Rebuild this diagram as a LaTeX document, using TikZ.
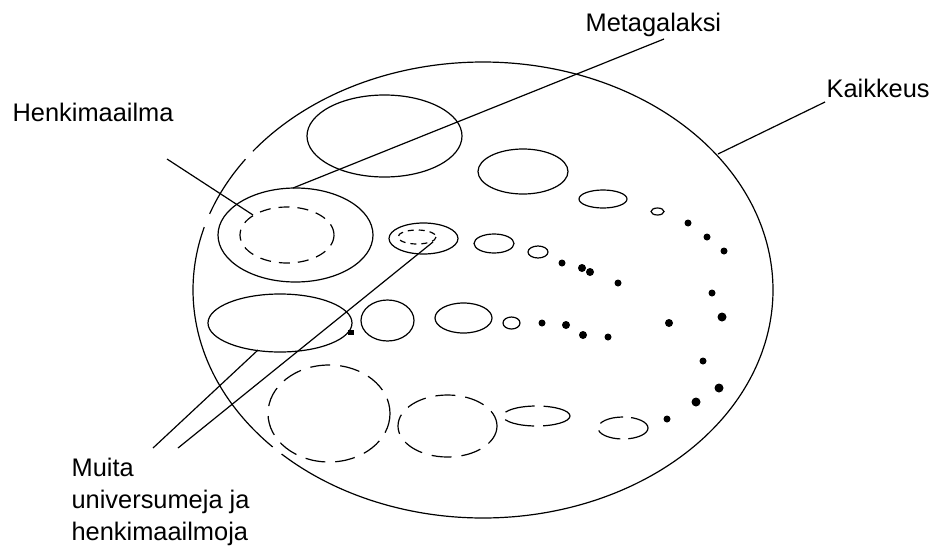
\documentclass[tikz,border=0pt]{standalone}
\usepackage{fontspec}
\setmainfont{Liberation Sans}
\begin{document}
\begin{tikzpicture}[x=1pt,y=-1pt,line width=1.2pt,
  lbl/.style={anchor=base west,inner sep=0pt,font=\fontsize{25.4}{32}\selectfont},
  dot/.style={fill=black,draw=none},
  dshA/.style={dash pattern=on 11pt off 8pt},
  dshB/.style={dash pattern=on 20pt off 10pt},
  dshC/.style={dash pattern=on 6pt off 5pt}]
\useasboundingbox (0,0) rectangle (933,549);

% Kaikkeus (big ellipse, with small gaps)
\draw plot[domain=136.5:196,samples=60,smooth] ({483+290*cos(\x)},{290+228*sin(\x)});
\draw plot[domain=199.5:215,samples=20,smooth] ({483+290*cos(\x)},{290+228*sin(\x)});
\draw plot[domain=217.5:494,samples=200,smooth] ({483+290*cos(\x)},{290+228*sin(\x)});

% row 1
\draw (384.5,136) ellipse [x radius=77.5,y radius=41];
\draw (523,171.5) ellipse [x radius=45,y radius=22.5];
\draw (603,199) ellipse [x radius=24,y radius=9];
\draw (657.5,211.5) ellipse [x radius=6.5,y radius=3.5];

% row 2
\draw (295.5,235) ellipse [x radius=77.5,y radius=47];
\draw[dshA] (287,235) ellipse [x radius=47,y radius=28];
\draw (423.5,238.5) ellipse [x radius=34.5,y radius=15.5];
\draw[dshC] (417,237) ellipse [x radius=19,y radius=7];
\draw (494,243.5) ellipse [x radius=20,y radius=9.5];
\draw (538,252) ellipse [x radius=10,y radius=6];

% row 3
\draw (280,323) ellipse [x radius=72,y radius=29];
\fill (348,330) rectangle (354,335);
\draw (387.5,320.5) ellipse [x radius=26.5,y radius=20.5];
\draw (463.5,318) ellipse [x radius=28.5,y radius=15];
\draw (511.5,323) ellipse [x radius=8.5,y radius=6];

% row 4 (dashed)
\draw[dshB] (329,413.5) ellipse [x radius=61,y radius=48.5];
\draw[dshB] (447.5,426) ellipse [x radius=49.5,y radius=31];
\draw[dash pattern=on 30pt off 9pt] (536.5,416) ellipse [x radius=33.5,y radius=10];
\draw[dash pattern=on 24pt off 8pt] (623,428) ellipse [x radius=25,y radius=11];

% dots
\foreach \dx/\dy/\dr in {688/223/3.5,707/237/3.5,724/251/3.5,
  562/263/3.5,582/268/4,590/272/4,618/283/3.5,
  712/293/3.5,722/317/4.5,703/361/3.5,719/388/4.5,696/402/4.5,667/419/3.5,
  542/323/3.5,566/325/4,583/335/4,608/337/3.5,669/323/4}{
  \path[dot] (\dx,\dy) circle [radius=\dr];}

% labels
\node[lbl] (meta) at (585,31) {Metagalaksi};
\node[lbl] (kaik) at (826,97) {Kaikkeus};
\node[lbl] (henki) at (12,121) {Henkimaailma};
\node[lbl] (muita1) at (71,476) {Muita};
\node[lbl] (muita2) at (71,508) {universumeja ja};
\node[lbl] (muita3) at (71,540) {henkimaailmoja};

% connector end points
\coordinate (metaA) at (664,39);
\coordinate (metaB) at (293,188);
\coordinate (kaikA) at (825,102);
\coordinate (kaikB) at (718,154);
\coordinate (henA) at (167,159);
\coordinate (henB) at (253,215);
\coordinate (muA1) at (153,448);
\coordinate (muB1) at (258,350);
\coordinate (muA2) at (178,448);
\coordinate (muB2) at (433,242);

\draw (metaA) -- (metaB);
\draw (kaikA) -- (kaikB);
\draw (henA) -- (henB);
\draw (muA1) -- (muB1);
\draw (muA2) -- (muB2);
\end{tikzpicture}
\end{document}
